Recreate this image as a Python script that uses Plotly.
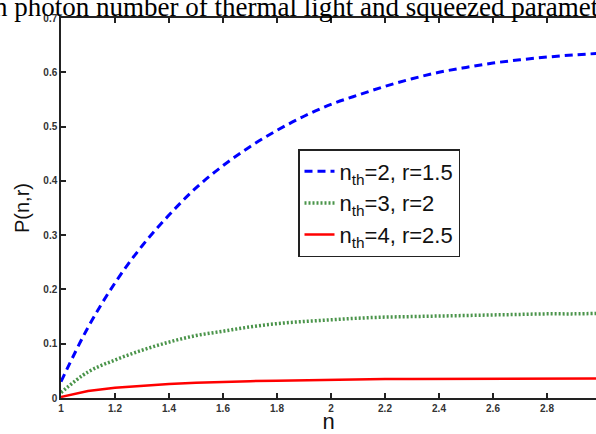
import plotly.graph_objects as go

n_vals = [1.0, 1.1, 1.2, 1.3, 1.4, 1.5, 1.6, 1.7, 1.8, 1.9, 2.0,
          2.1, 2.2, 2.3, 2.4, 2.5, 2.6, 2.7, 2.8, 2.9, 3.0]
p_nth2 = [0.030, 0.130, 0.212, 0.280, 0.337, 0.387, 0.428, 0.463, 0.493, 0.519, 0.541,
          0.558, 0.574, 0.588, 0.600, 0.609, 0.617, 0.623, 0.628, 0.632, 0.635]
p_nth3 = [0.010, 0.048, 0.070, 0.088, 0.103, 0.115, 0.123, 0.131, 0.137, 0.141, 0.144,
          0.147, 0.149, 0.150, 0.151, 0.152, 0.153, 0.154, 0.155, 0.155, 0.156]
p_nth4 = [0.002, 0.013, 0.019, 0.023, 0.026, 0.028, 0.030, 0.031, 0.032, 0.033, 0.034,
          0.0345, 0.035, 0.035, 0.0352, 0.0354, 0.0355, 0.0356, 0.0357, 0.0358, 0.036]
x_ticks = [1, 1.2, 1.4, 1.6, 1.8, 2, 2.2, 2.4, 2.6, 2.8, 3]
x_tick_text = ["1", "1.2", "1.4", "1.6", "1.8", "2", "2.2", "2.4", "2.6", "2.8", "3"]
y_ticks = [0, 0.1, 0.2, 0.3, 0.4, 0.5, 0.6, 0.7]
y_tick_text = ["0", "0.1", "0.2", "0.3", "0.4", "0.5", "0.6", "0.7"]
names = ["n<sub>th</sub>=2, r=1.5", "n<sub>th</sub>=3, r=2", "n<sub>th</sub>=4, r=2.5"]
title_text = "mean photon number of thermal light and squeezed parameter"

fig = go.Figure()
fig.add_trace(go.Scatter(x=n_vals, y=p_nth2, mode="lines", name=names[0], line_shape="spline",
                         line=dict(color="#0000ff", width=3, dash="8px,5px")))
fig.add_trace(go.Scatter(x=n_vals, y=p_nth3, mode="lines", name=names[1], line_shape="spline",
                         line=dict(color="#4a944a", width=3.5, dash="2px,2px")))
fig.add_trace(go.Scatter(x=n_vals, y=p_nth4, mode="lines", name=names[2],
                         line=dict(color="#ff0000", width=2.5)))

W, H = 596, 434
ml, mr, mt, mb = 61, 0, 18, 36
pw = W - ml - mr
xmax = 1 + pw / 270.0
tickf = dict(family="Liberation Sans, Arial", size=10, color="#333", weight="bold")

fig.update_layout(
    width=W, height=H,
    margin=dict(l=ml, r=mr, t=mt, b=mb, pad=0, autoexpand=False),
    paper_bgcolor="white", plot_bgcolor="white",
    showlegend=True,
    legend=dict(x=(298 - ml) / pw, y=1 - (149 - mt) / 380.0, xanchor="left", yanchor="top",
                bgcolor="white", bordercolor="#222", borderwidth=1.5,
                font=dict(family="Liberation Sans, Arial", size=22, color="#111"),
                tracegroupgap=0),
    xaxis=dict(range=[1, xmax], tickvals=x_ticks, ticktext=x_tick_text, automargin=False,
               showgrid=False, zeroline=False, showline=True, linecolor="#222", linewidth=1.5,
               mirror="ticks", ticks="inside", ticklen=5, tickcolor="#222", tickwidth=1.5,
               tickfont=tickf,
               title=dict(text="n", font=dict(family="Liberation Sans, Arial", size=22, color="#111"),
                          standoff=7)),
    yaxis=dict(range=[0, 0.7], tickvals=y_ticks, ticktext=y_tick_text, automargin=False,
               showgrid=False, zeroline=False, showline=True, linecolor="#222", linewidth=1.5,
               ticks="inside", ticklen=5, tickcolor="#222", tickwidth=1.5,
               tickfont=tickf,
               title=dict(text="P(n,r)", font=dict(family="Liberation Sans, Arial", size=20, color="#111"),
                          standoff=8)),
)

fig.add_annotation(text=title_text, xref="paper", yref="paper",
                   x=(-53 - ml) / pw, y=1 + (mt - 7) / 380.0, xanchor="left", yanchor="middle",
                   showarrow=False,
                   font=dict(family="Liberation Serif, Times New Roman", size=27, color="black"))

fig.write_html("out.html")
